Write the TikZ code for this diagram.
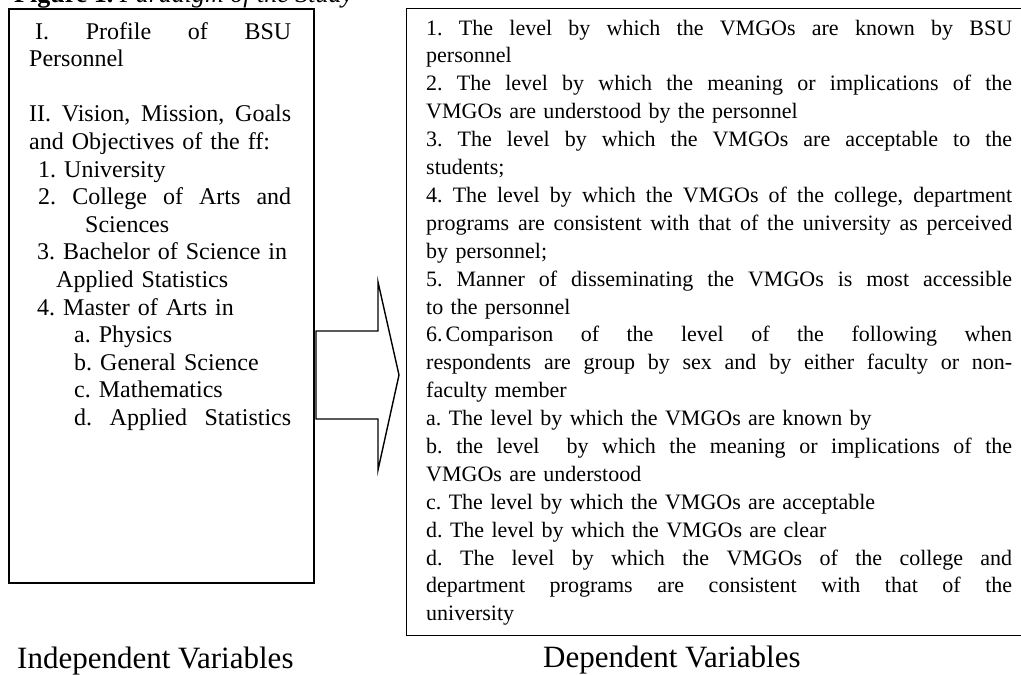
\documentclass[tikz,border=0pt]{standalone}
\usepackage{fontspec}
\setmainfont{Liberation Serif}
\frenchspacing
\newcommand{\LW}{262pt}
\newcommand{\RW}{586pt}
% justified single line: spaces stretch to fill the given width
\newcommand{\jl}[2]{\makebox[#1][s]{\spaceskip=0.25em plus 1fil minus 0.08em\relax #2}}
\begin{document}
\begin{tikzpicture}[x=1pt,y=-1pt,
  boxframe/.style={draw, line width=#1, inner sep=0pt, anchor=north west},
  boxtext/.style={anchor=base west, inner sep=0pt, text width=#1, align=left},
  label/.style={anchor=base west, inner sep=0pt, font=\fontsize{31}{31}\selectfont},
  blockarrow/.style={draw, line width=1.4pt, line join=miter}]
\useasboundingbox (0,0) rectangle (1021,675);
% cut-off title
\node[anchor=base west, inner sep=0pt, font=\fontsize{26}{26}\selectfont] (title) at (14,2) {\textbf{Figure 1.} \textit{Paradigm of the Study}};
% boxes
\node[boxframe=2pt, minimum width=305pt, minimum height=574pt] (L) at (8,8) {};
\node[boxframe=1.3pt, minimum width=620pt, minimum height=627pt] (R) at (406,8) {};
% left text
\node[boxtext=\LW, font=\fontsize{24}{27.6}\selectfont] (Ltxt) at (29,39) {%
\hspace*{6pt}\jl{256pt}{I. Profile of BSU}\\
Personnel\\
\mbox{}\\
\jl{262pt}{II. Vision, Mission, Goals}\\
and Objectives of the ff:\\
\hspace*{9pt}1. University\\
\hspace*{9pt}\jl{253pt}{2. College of Arts and}\\
\hspace*{56pt}Sciences\\
\hspace*{8pt}3. Bachelor of Science in\\
\hspace*{27pt}Applied Statistics\\
\hspace*{8pt}4. Master of Arts in\\
\hspace*{45pt}a. Physics\\
\hspace*{45pt}b. General Science\\
\hspace*{45pt}c. Mathematics\\
\hspace*{45pt}\jl{217pt}{d. Applied Statistics}};
% right text
\node[boxtext=\RW, font=\fontsize{22}{27.9}\selectfont] (Rtxt) at (426,35) {%
\jl{\RW}{1. The level by which the VMGOs are known by BSU}\\
personnel\\
\jl{\RW}{2. The level by which the meaning or implications of the}\\
VMGOs are understood by the personnel\\
\jl{\RW}{3. The level by which the VMGOs are acceptable to the}\\
students;\\
\jl{\RW}{4. The level by which the VMGOs of the college, department}\\
\jl{\RW}{programs are consistent with that of the university as perceived}\\
by personnel;\\
\jl{\RW}{5. Manner of disseminating the VMGOs is most accessible}\\
to the personnel\\
\jl{\RW}{6.\hspace{3pt}Comparison of the level of the following when}\\
\jl{\RW}{respondents are group by sex and by either faculty or non-}\\
faculty member\\
a. The level by which the VMGOs are known by\\
\jl{\RW}{b. the level\ \ by which the meaning or implications of the}\\
VMGOs are understood\\
c. The level by which the VMGOs are acceptable\\
d. The level by which the VMGOs are clear\\
\jl{\RW}{d. The level by which the VMGOs of the college and}\\
\jl{\RW}{department programs are consistent with that of the}\\
university};
% block arrow from L to R
\coordinate (a1) at (316,331);
\coordinate (a2) at (378,331);
\coordinate (a3) at (378,282);
\coordinate (tip) at (399,375);
\coordinate (a5) at (378,470);
\coordinate (a6) at (378,419);
\coordinate (a7) at (316,419);
\draw[blockarrow] (a1) -- (a2) -- (a3) -- (tip) -- (a5) -- (a6) -- (a7) -- cycle;
% labels
\node[label] (IV) at (17,668) {Independent Variables};
\node[label] (DV) at (543,667) {Dependent Variables};
\end{tikzpicture}
\end{document}
